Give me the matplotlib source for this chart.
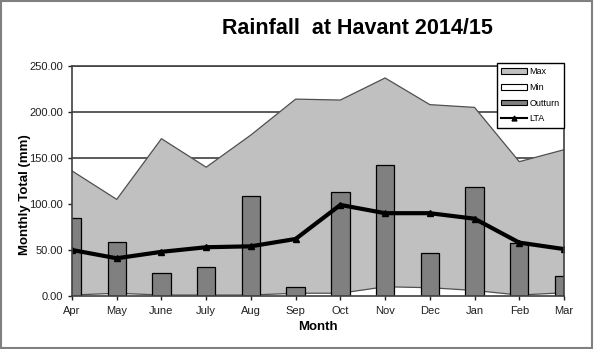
import numpy as np
import matplotlib.pyplot as plt
from matplotlib.patches import Patch, Rectangle
from matplotlib.lines import Line2D
from matplotlib.ticker import FormatStrFormatter

plt.rcParams['font.family'] = ['Liberation Sans', 'DejaVu Sans']

months = ["Apr", "May", "June", "July", "Aug", "Sep", "Oct", "Nov", "Dec", "Jan", "Feb", "Mar"]
max_rain = [136, 105, 171, 140, 175, 214, 213, 237, 208, 205, 146, 159]
min_rain = [1, 3, 1, 1, 1, 3, 3, 10, 9, 6, 1, 3.5]
outturn = [85, 59, 24.5, 32, 109, 9.5, 113, 142, 47, 119, 58, 22]
lta = [50, 41, 48, 53, 54, 62, 99, 90, 90, 84, 58, 51]

x = np.arange(len(months))

fig = plt.figure(figsize=(5.94, 3.49), dpi=100)
ax = fig.add_axes([0.1212, 0.1519, 0.8283, 0.659])

# gridlines behind everything
ax.set_axisbelow(True)
ax.yaxis.grid(True, color='#404040', linewidth=1.2, zorder=0)

# max / min envelope
ax.fill_between(x, 0, max_rain, facecolor='#c0c0c0', edgecolor='none', zorder=1)
ax.plot(x, max_rain, color='#505050', linewidth=0.9, zorder=1.5)
ax.fill_between(x, 0, min_rain, facecolor='white', edgecolor='none', zorder=2)
ax.plot(x, min_rain, color='#505050', linewidth=0.9, zorder=2.5)

# outturn bars
ax.bar(x, outturn, width=0.41, color='#808080', edgecolor='black', linewidth=0.9, zorder=3)

# long term average
ax.plot(x, lta, color='black', linewidth=3, marker='^', markersize=5, zorder=4)

ax.set_xlim(0, 11)
ax.set_ylim(0, 250)
ax.set_yticks(np.arange(0, 251, 50))
ax.yaxis.set_major_formatter(FormatStrFormatter('%.2f'))
ax.set_xticks(x)
ax.set_xticklabels(months)
ax.tick_params(axis='both', labelsize=8, colors='#202020', length=3, width=1)
ax.tick_params(axis='x', pad=4)

for s in ax.spines.values():
    s.set_color('#404040')
    s.set_linewidth(1.2)
    s.set_zorder(5)

ax.set_ylabel("Monthly Total (mm)", fontsize=9.5, fontweight='bold', va='center')
ax.yaxis.set_label_coords(-0.0955, 0.44)
ax.set_xlabel("Month", fontsize=9.5, fontweight='bold', labelpad=4)
fig.text(0.601, 0.918, "Rainfall  at Havant 2014/15", fontsize=15.5, fontweight='bold',
         ha='center', va='center')

handles = [
    Patch(facecolor='#c0c0c0', edgecolor='black', linewidth=0.8, label='Max'),
    Patch(facecolor='white', edgecolor='black', linewidth=0.8, label='Min'),
    Patch(facecolor='#808080', edgecolor='black', linewidth=0.8, label='Outturn'),
    Line2D([0], [0], color='black', linewidth=1.5, marker='^', markersize=3.5, label='LTA'),
]
leg = ax.legend(handles=handles, loc='upper right', bbox_to_anchor=(1.0, 1.015),
                borderaxespad=0, fontsize=6.5, fancybox=False, framealpha=1,
                edgecolor='black', handlelength=2.8, handleheight=0.6,
                handletextpad=0.3, labelspacing=0.75, borderpad=0.5)
leg.get_frame().set_linewidth(1)
leg.set_zorder(10)

fig.patches.append(Rectangle((0.002, 0.003), 0.995, 0.993, transform=fig.transFigure,
                             fill=False, edgecolor='#808080', linewidth=1.5))

fig.savefig("out.png", dpi=100)
